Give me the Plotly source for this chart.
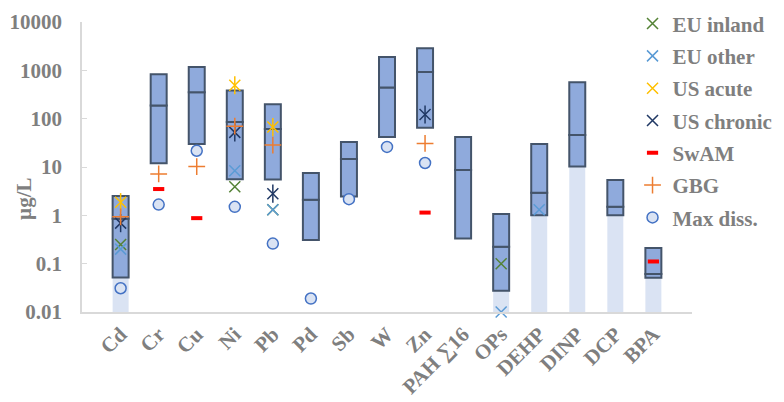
import plotly.graph_objects as go

categories = ['Cd', 'Cr', 'Cu', 'Ni', 'Pb', 'Pd', 'Sb', 'W', 'Zn', 'PAH ∑16',
              'OPs', 'DEHP', 'DINP', 'DCP', 'BPA']
box_min = [0.052, 11.9, 30, 5.6, 5.5, 0.31, 2.44, 41.6, 64.7, 0.33, 0.0274, 1.0, 10.2, 1.0, 0.051]
box_mid = [0.85, 187, 352, 85, 61, 2.1, 14.6, 440, 925, 8.7, 0.224, 2.95, 46, 1.5, 0.061]
box_max = [2.5, 828, 1170, 381, 199, 7.5, 33, 1880, 2880, 42, 1.07, 29.8, 566, 5.4, 0.21]
shaded = [True, False, False, False, False, False, False, False, False, False,
          True, True, True, True, True]
axis_floor = 0.01

eu_inland = [0.25, None, None, 3.9, 1.3, None, None, None, None, None, 0.1, None, None, None, None]
eu_other = [0.2, None, None, 8.4, 1.3, None, None, None, None, None, 0.01, 1.3, None, None, None]
us_acute = [1.87, None, None, 491, 67, None, None, None, None, None, None, None, None, None, None]
us_chronic = [0.69, None, None, 52, 2.8, None, None, None, 122, None, None, None, None, None, None]
swam = [None, 3.5, 0.875, None, None, None, None, None, 1.14, None, None, None, None, None, 0.111]
gbg = [0.93, 7.2, 10.2, 70, 28.4, None, None, None, 30.8, None, None, None, None, None, None]
max_diss = [0.031, 1.67, 21.7, 1.5, 0.26, 0.019, 2.16, 26, 12.1, None, None, None, None, None, None]

FONT = "Liberation Serif"
GREY = "#7f7f7f"
BW = 0.42
F = dict(family=FONT, size=21, color=GREY, weight="bold")

fig = go.Figure()

# light band from axis floor up to box bottom
fig.add_trace(go.Bar(
    x=categories,
    y=[(lo - axis_floor) if s else None for lo, s in zip(box_min, shaded)],
    base=[axis_floor if s else None for s in shaded],
    width=BW, marker=dict(color="#dae3f3", line=dict(width=0)),
    showlegend=False, hoverinfo="skip"))
# lower box segment
fig.add_trace(go.Bar(
    x=categories, y=[m - lo for lo, m in zip(box_min, box_mid)], base=box_min,
    width=BW, marker=dict(color="#8faadc", line=dict(color="#44546a", width=2)),
    showlegend=False, hoverinfo="skip"))
# upper box segment
fig.add_trace(go.Bar(
    x=categories, y=[hi - m for m, hi in zip(box_mid, box_max)], base=box_mid,
    width=BW, marker=dict(color="#8faadc", line=dict(color="#44546a", width=2)),
    showlegend=False, hoverinfo="skip"))


def pts(name, vals, symbol, color, size, lw=1.5, fill=None, group=None, legend=True):
    fig.add_trace(go.Scatter(
        x=categories, y=vals, mode="markers", name=name,
        legendgroup=group or name, showlegend=legend, cliponaxis=False,
        marker=dict(symbol=symbol, size=size,
                    color=fill if fill else color,
                    line=dict(color=color, width=lw))))


pts("EU inland", eu_inland, "x-thin", "#548235", 11)
pts("EU other", eu_other, "x-thin", "#5b9bd5", 11)
pts("US acute", us_acute, "x-thin", "#ffc000", 11)
pts("US acute", us_acute, "line-ns", "#ffc000", 13, group="US acute", legend=False)
pts("US chronic", us_chronic, "x-thin", "#203864", 11)
pts("US chronic", us_chronic, "line-ns", "#203864", 13, group="US chronic", legend=False)
pts("SwAM", swam, "line-ew", "#ff0000", 8, lw=4)
pts("GBG", gbg, "cross-thin", "#ed7d31", 12)
pts("Max diss.", max_diss, "circle", "#4472c4", 11, lw=1.5, fill="#dae3f3")

fig.update_layout(
    barmode="overlay",
    width=784, height=402,
    margin=dict(l=74, r=99.5, t=13.5, b=97.5, autoexpand=False),
    plot_bgcolor="white", paper_bgcolor="white",
    font=F,
    legend=dict(x=0.9025, xanchor="left", y=1.064, yanchor="top",
                font=F, maxheight=1.0,
                tracegroupgap=2, itemwidth=30, bgcolor="rgba(0,0,0,0)"),
    annotations=[dict(text="µg/L", textangle=-90, x=-0.095, y=0.39,
                      xref="paper", yref="paper", showarrow=False,
                      xanchor="center", yanchor="middle", font=F)],
)
fig.update_xaxes(
    type="category", tickangle=-45, automargin=False,
    tickfont=F,
    showline=True, linecolor="#d9d9d9", linewidth=1.5,
    showgrid=False, ticks="")
fig.update_yaxes(
    type="log", range=[-2, 4], automargin=False,
    tickvals=[0.01, 0.1, 1, 10, 100, 1000, 10000],
    ticktext=["0.01", "0.1", "1", "10", "100", "1000", "10000"],
    tickfont=F, ticklabelstandoff=14,
    showline=True, linecolor="#d9d9d9", linewidth=1.5,
    showgrid=False, ticks="inside", ticklen=5, tickcolor="#d9d9d9")

fig.write_html("out.html")
